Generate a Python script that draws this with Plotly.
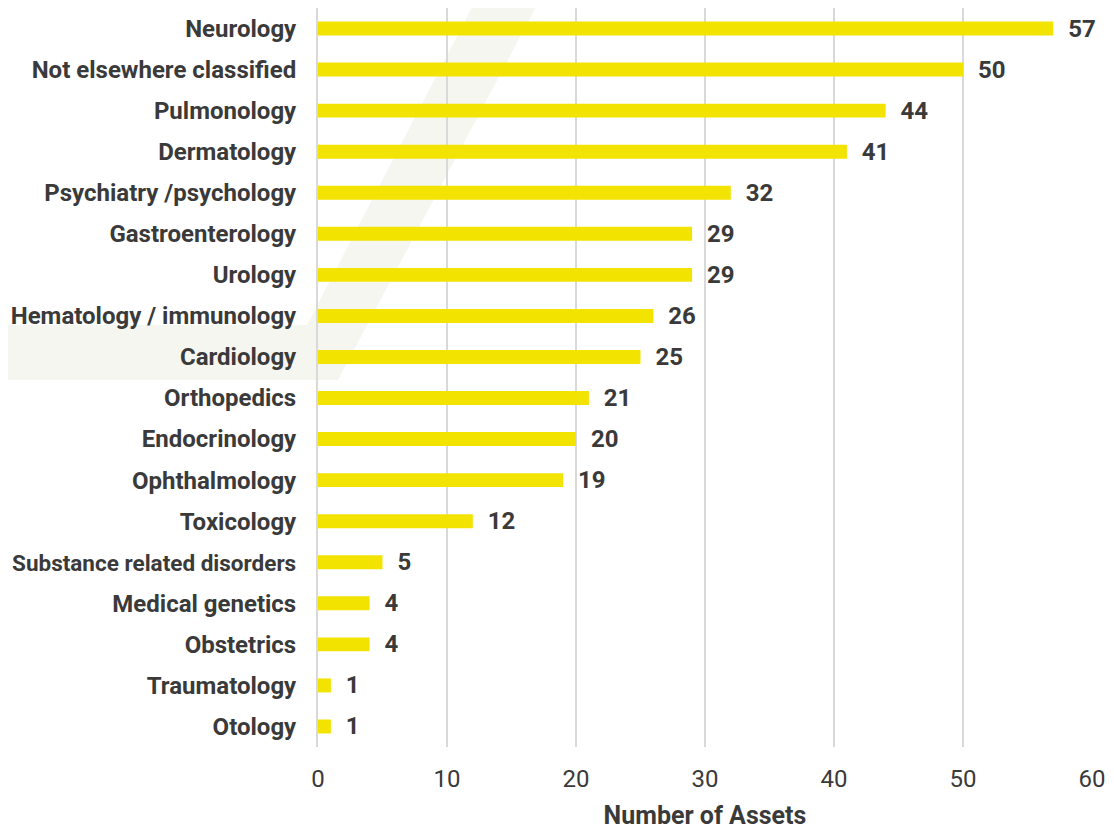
import plotly.graph_objects as go

categories = [
    "Neurology", "Not elsewhere classified", "Pulmonology", "Dermatology",
    "Psychiatry /psychology", "Gastroenterology", "Urology",
    "Hematology / immunology", "Cardiology", "Orthopedics", "Endocrinology",
    "Ophthalmology", "Toxicology", "Substance related disorders",
    "Medical genetics", "Obstetrics", "Traumatology", "Otology",
]
assets = [57, 50, 44, 41, 32, 29, 29, 26, 25, 21, 20, 19, 12, 5, 4, 4, 1, 1]
x_ticks = [0, 10, 20, 30, 40, 50, 60]

text_color = "#3A3A3A"
bar_color = "#F2E300"

# the longest label is shrunk slightly so it stays inside the page
tick_text = [c if len(c) < 26 else f"<span style='font-size:22.5px'>{c}</span>"
             for c in categories]

fig = go.Figure()

fig.add_trace(go.Bar(
    x=assets,
    y=categories,
    orientation='h',
    marker=dict(color=bar_color, line=dict(width=0)),
    text=assets,
    texttemplate='\u00a0\u00a0%{text}',
    textposition='outside',
    textfont=dict(family='Roboto', size=24, color=text_color, weight='bold'),
    constraintext='none',
    cliponaxis=False,
    showlegend=False,
))

# page body has an 8px margin, so the figure is laid out in shifted coords
OFF = 8
W, H = 1114 - OFF, 830 - OFF
L, R, T, B = 318 - OFF, 1092 - OFF, 0, 747 - OFF

# faint logo watermark behind the chart (page pixel coords -> paper)
def px(x, y):
    return f"{(x - OFF - L) / (R - L):.4f},{(B - (y - OFF)) / (B - T):.4f}"

path = ("M " + px(-30, 325) + " L " + px(307, 325) + " L " + px(481, -10)
        + " L " + px(545, -10) + " L " + px(338, 380) + " L " + px(-30, 380) + " Z")
fig.add_shape(type='path', path=path, xref='paper', yref='paper',
              fillcolor='#F6F6F0', line=dict(width=0), layer='below')

fig.update_layout(
    width=W,
    height=H,
    margin=dict(l=L, r=W - R, t=T, b=H - B, autoexpand=False),
    paper_bgcolor='white',
    plot_bgcolor='rgba(0,0,0,0)',
    bargap=0.66,
    font=dict(family='Roboto', color=text_color),
    xaxis=dict(
        range=[0, 60],
        tickvals=x_ticks,
        tickfont=dict(size=24, color=text_color),
        showgrid=True,
        gridcolor='#D9D9D9',
        gridwidth=2,
        zeroline=False,
        showline=False,
        ticks='',
        automargin=False,
        ticklabelstandoff=15,
        title=dict(text='Number of Assets', font=dict(size=25, weight='bold', color=text_color),
                   standoff=18),
    ),
    yaxis=dict(
        categoryorder='array',
        categoryarray=categories[::-1],
        tickvals=categories,
        ticktext=tick_text,
        tickfont=dict(size=24, weight='bold', color=text_color),
        showgrid=False,
        zeroline=False,
        showline=True,
        linecolor='#D9D9D9',
        linewidth=2,
        ticks='',
        automargin=False,
        ticklabelstandoff=15,
    ),
)

fig.write_html("out.html")
